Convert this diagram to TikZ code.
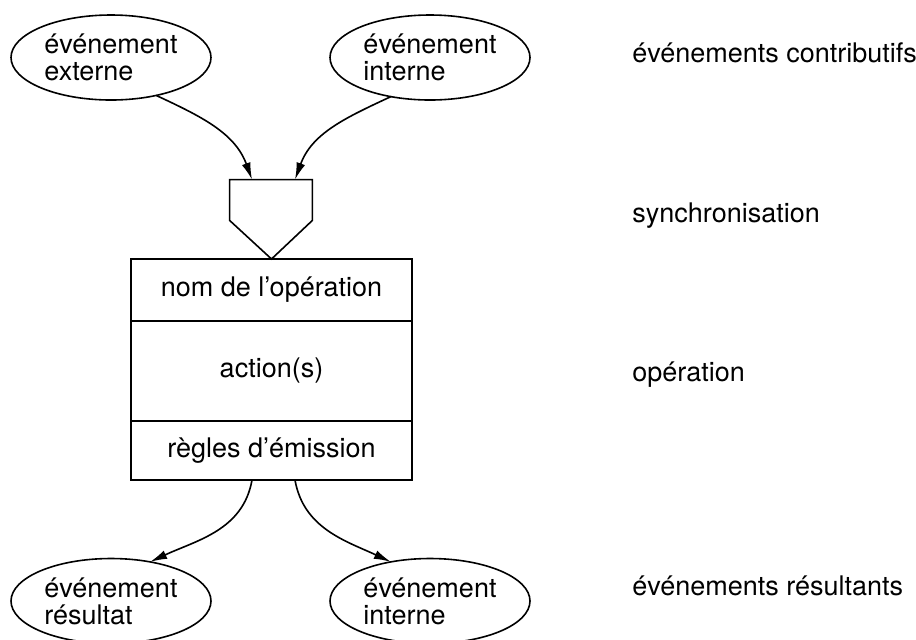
\documentclass[tikz,border=0pt]{standalone}
\usepackage{fontspec}
\setmainfont{TeX Gyre Heros}
\usetikzlibrary{positioning,shapes.geometric,arrows.meta}
\tikzstyle{event} = [ellipse, draw, line width=0.8pt, minimum width=100pt, minimum height=42.5pt, inner sep=0pt, outer sep=0pt, align=left]
\tikzstyle{block} = [rectangle, draw, line width=0.8pt, minimum width=140.5pt, inner sep=0pt, outer sep=0pt]
\tikzstyle{line} = [draw, line width=0.8pt, -{Latex[length=8.5pt,width=4.5pt]}]
\tikzstyle{legend} = [anchor=base west, inner sep=0pt]

\begin{document}
\begin{tikzpicture}[x=0.5pt, y=-0.5pt, node distance=159.5pt, font=\fontsize{13.5}{13.5}\selectfont]
    \useasboundingbox (0,0) rectangle (916,639);
    % Evenements contributifs
    \node [event] (ext) at (111,57.5) {événement\\externe};
    \node [event, right of=ext] (int) {événement\\interne};
    % Synchronisation
    \node [minimum width=41pt, minimum height=20pt, inner sep=0pt] (sync) at (271,200) {};
    % Operation
    \node [block, minimum height=31pt] (nom) at (271.5,290) {nom de l'opération};
    \node [block, minimum height=50pt, below=0pt of nom] (action) {action(s)};
    \node [block, minimum height=29.5pt, below=0pt of action] (regles) {règles d'émission};
    \draw [line width=0.8pt] (sync.north west) -- (sync.south west) -- (nom.north)
        -- (sync.south east) -- (sync.north east) -- cycle;
    % Evenements resultants
    \node [event] (res) at (111,601) {événement\\résultat};
    \node [event, right of=res] (intres) {événement\\interne};
    % Legende
    \node [legend] (lcontrib) at (632,62) {événements contributifs};
    \node [legend] (lsync) at (632,222) {synchronisation};
    \node [legend] (lop) at (632,381) {opération};
    \node [legend] (lresult) at (632,595) {événements résultants};
    % Lines
    \path [line] (ext.-40) to[out=-25, in=110] ([xshift=-9.5pt]sync.north);
    \path [line] (int.-135) to[out=-155, in=70] ([xshift=12pt]sync.north);
    \path [line] ([xshift=-9.75pt]regles.south) to[out=-100, in=25] (res.45);
    \path [line] ([xshift=11.75pt]regles.south) to[out=-80, in=155] (intres.135);
\end{tikzpicture}
\end{document}
